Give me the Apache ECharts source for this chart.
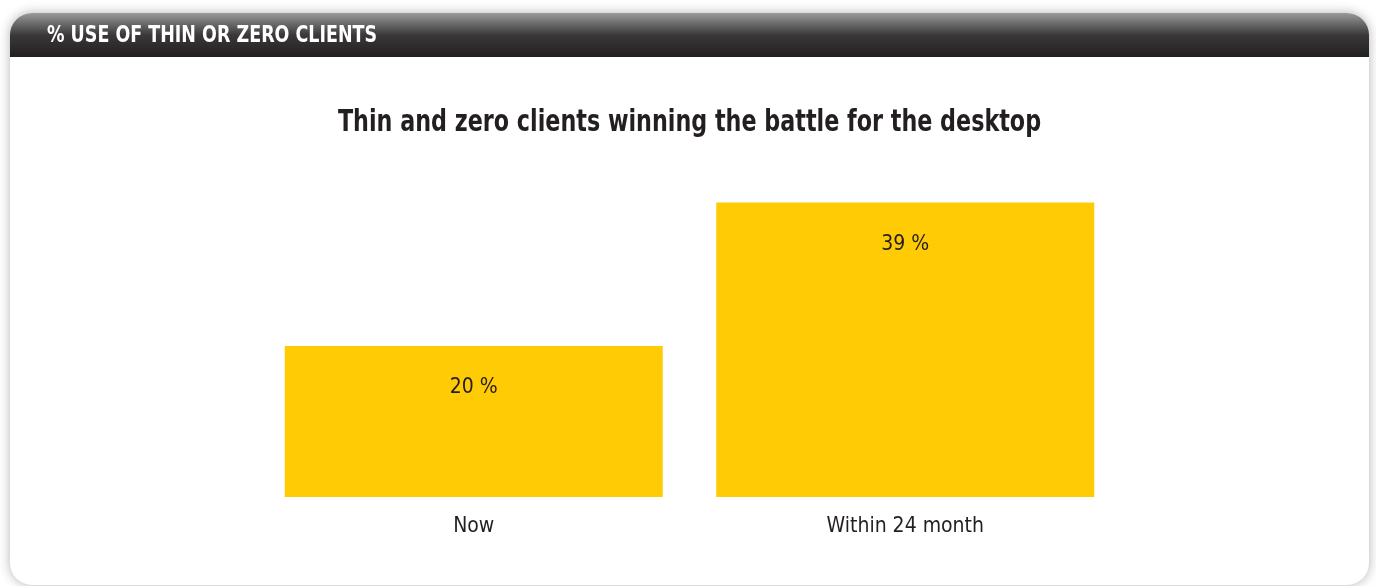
<!DOCTYPE html>
<html>
<head>
<meta charset="utf-8">
<title>% USE OF THIN OR ZERO CLIENTS</title>
<script src="https://cdn.jsdelivr.net/npm/echarts@6/dist/echarts.min.js"></script>
<style>
  html, body { margin: 0; padding: 0; background: #ffffff; }
  #chart { width: 1376px; height: 586px; }
</style>
</head>
<body>
<div id="chart"></div>
<script>
// Share of organisations using thin or zero clients
const categories = ['Now', 'Within 24 month'];
const shareValues = [20, 39];
const headerText = '% USE OF THIN OR ZERO CLIENTS';
const chartTitle = 'Thin and zero clients winning the battle for the desktop';

const INK = '#231f20';
const BAR = '#ffcb05';
const NARROW = '"Liberation Sans Narrow", "DejaVu Sans Condensed", "Roboto", sans-serif';

const chart = echarts.init(document.getElementById('chart'), null, { renderer: 'canvas' });

chart.setOption({
  backgroundColor: '#ffffff',
  animation: false,
  graphic: [
    // card with soft drop shadow
    {
      type: 'rect', z: -10,
      shape: { x: 10, y: 13, width: 1359, height: 572, r: 22 },
      style: { fill: '#ffffff', shadowBlur: 12, shadowColor: 'rgba(0,0,0,0.3)', shadowOffsetX: 0, shadowOffsetY: 0 }
    },
    // dark header band
    {
      type: 'rect', z: -9,
      shape: { x: 10, y: 13, width: 1359, height: 44, r: [22, 22, 0, 0] },
      style: {
        fill: new echarts.graphic.LinearGradient(0, 0, 0, 1, [
          { offset: 0, color: '#9a9a9a' },
          { offset: 0.5, color: '#3a3839' },
          { offset: 1, color: '#231f20' }
        ])
      }
    },
    // header caption, horizontally condensed
    {
      type: 'text', z: -8,
      x: 47, y: 36, originX: 0, originY: 0, scaleX: 0.845,
      style: {
        text: headerText, fill: '#ffffff',
        font: 'bold 23px ' + NARROW,
        textAlign: 'left', textVerticalAlign: 'middle'
      }
    },
    // chart title, horizontally condensed
    {
      type: 'text', z: 5,
      x: 689.5, y: 123, originX: 0, originY: 0, scaleX: 0.825,
      style: {
        text: chartTitle, fill: INK,
        font: 'bold 30px ' + NARROW,
        textAlign: 'center', textVerticalAlign: 'middle'
      }
    }
  ],
  grid: { left: 258, right: 255, top: 119.5, bottom: 89, containLabel: false },
  xAxis: {
    type: 'category',
    data: categories,
    axisLine: { show: false },
    axisTick: { show: false },
    axisLabel: { color: INK, fontFamily: NARROW, fontSize: 21, margin: 19 }
  },
  yAxis: {
    type: 'value',
    min: 0, max: 50,
    show: false,
    splitLine: { show: false }
  },
  series: [{
    type: 'bar',
    data: shareValues,
    barWidth: 378,
    itemStyle: { color: BAR },
    label: {
      show: true,
      position: 'insideTop',
      distance: 31,
      formatter: '{c} %',
      color: INK,
      fontFamily: NARROW,
      fontSize: 21
    }
  }]
});
</script>
</body>
</html>
